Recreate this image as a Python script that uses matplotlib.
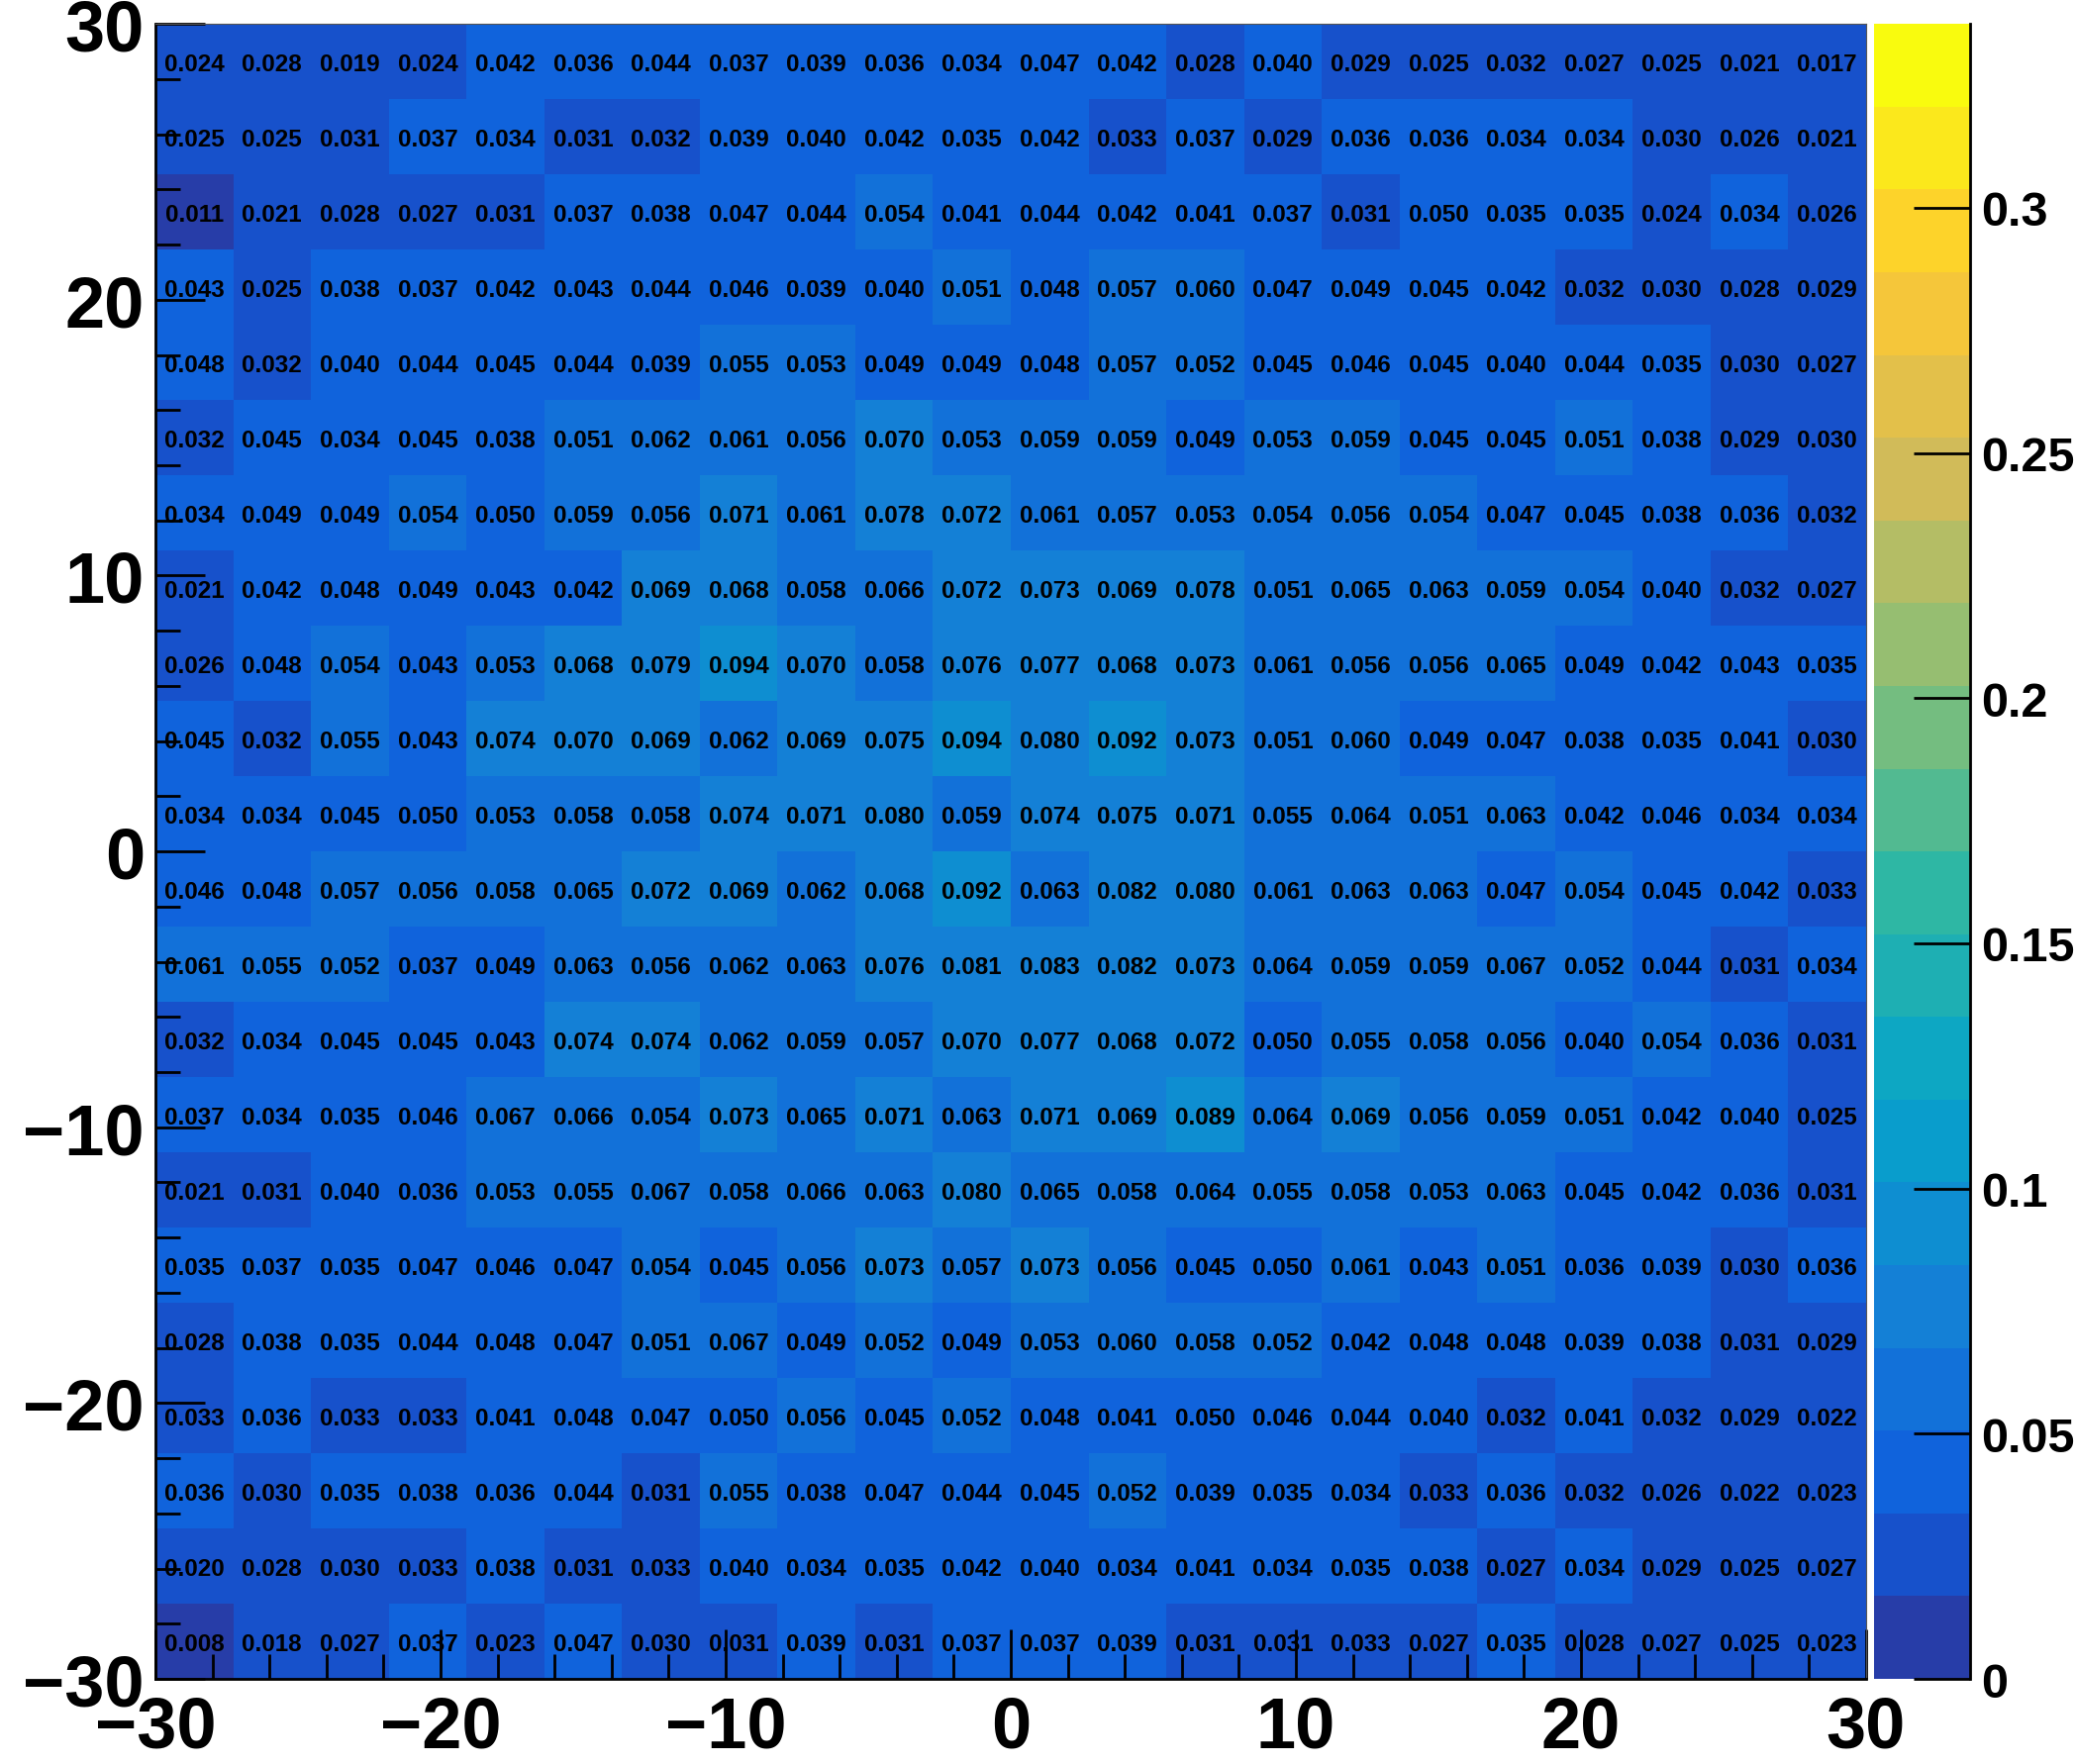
import numpy as np
import matplotlib
matplotlib.use("Agg")
import matplotlib.pyplot as plt
from matplotlib.colors import ListedColormap, BoundaryNorm
from matplotlib.ticker import MultipleLocator, FuncFormatter

plt.rcParams['font.family'] = ['Liberation Sans', 'DejaVu Sans']
plt.rcParams['font.weight'] = 'bold'

# bin contents, listed top row (y = +30) to bottom row (y = -30)
rows = [
    [0.024, 0.028, 0.019, 0.024, 0.042, 0.036, 0.044, 0.037, 0.039, 0.036, 0.034, 0.047, 0.042, 0.028, 0.040, 0.029, 0.025, 0.032, 0.027, 0.025, 0.021, 0.017],
    [0.025, 0.025, 0.031, 0.037, 0.034, 0.031, 0.032, 0.039, 0.040, 0.042, 0.035, 0.042, 0.033, 0.037, 0.029, 0.036, 0.036, 0.034, 0.034, 0.030, 0.026, 0.021],
    [0.011, 0.021, 0.028, 0.027, 0.031, 0.037, 0.038, 0.047, 0.044, 0.054, 0.041, 0.044, 0.042, 0.041, 0.037, 0.031, 0.050, 0.035, 0.035, 0.024, 0.034, 0.026],
    [0.043, 0.025, 0.038, 0.037, 0.042, 0.043, 0.044, 0.046, 0.039, 0.040, 0.051, 0.048, 0.057, 0.060, 0.047, 0.049, 0.045, 0.042, 0.032, 0.030, 0.028, 0.029],
    [0.048, 0.032, 0.040, 0.044, 0.045, 0.044, 0.039, 0.055, 0.053, 0.049, 0.049, 0.048, 0.057, 0.052, 0.045, 0.046, 0.045, 0.040, 0.044, 0.035, 0.030, 0.027],
    [0.032, 0.045, 0.034, 0.045, 0.038, 0.051, 0.062, 0.061, 0.056, 0.070, 0.053, 0.059, 0.059, 0.049, 0.053, 0.059, 0.045, 0.045, 0.051, 0.038, 0.029, 0.030],
    [0.034, 0.049, 0.049, 0.054, 0.050, 0.059, 0.056, 0.071, 0.061, 0.078, 0.072, 0.061, 0.057, 0.053, 0.054, 0.056, 0.054, 0.047, 0.045, 0.038, 0.036, 0.032],
    [0.021, 0.042, 0.048, 0.049, 0.043, 0.042, 0.069, 0.068, 0.058, 0.066, 0.072, 0.073, 0.069, 0.078, 0.051, 0.065, 0.063, 0.059, 0.054, 0.040, 0.032, 0.027],
    [0.026, 0.048, 0.054, 0.043, 0.053, 0.068, 0.079, 0.094, 0.070, 0.058, 0.076, 0.077, 0.068, 0.073, 0.061, 0.056, 0.056, 0.065, 0.049, 0.042, 0.043, 0.035],
    [0.045, 0.032, 0.055, 0.043, 0.074, 0.070, 0.069, 0.062, 0.069, 0.075, 0.094, 0.080, 0.092, 0.073, 0.051, 0.060, 0.049, 0.047, 0.038, 0.035, 0.041, 0.030],
    [0.034, 0.034, 0.045, 0.050, 0.053, 0.058, 0.058, 0.074, 0.071, 0.080, 0.059, 0.074, 0.075, 0.071, 0.055, 0.064, 0.051, 0.063, 0.042, 0.046, 0.034, 0.034],
    [0.046, 0.048, 0.057, 0.056, 0.058, 0.065, 0.072, 0.069, 0.062, 0.068, 0.092, 0.063, 0.082, 0.080, 0.061, 0.063, 0.063, 0.047, 0.054, 0.045, 0.042, 0.033],
    [0.061, 0.055, 0.052, 0.037, 0.049, 0.063, 0.056, 0.062, 0.063, 0.076, 0.081, 0.083, 0.082, 0.073, 0.064, 0.059, 0.059, 0.067, 0.052, 0.044, 0.031, 0.034],
    [0.032, 0.034, 0.045, 0.045, 0.043, 0.074, 0.074, 0.062, 0.059, 0.057, 0.070, 0.077, 0.068, 0.072, 0.050, 0.055, 0.058, 0.056, 0.040, 0.054, 0.036, 0.031],
    [0.037, 0.034, 0.035, 0.046, 0.067, 0.066, 0.054, 0.073, 0.065, 0.071, 0.063, 0.071, 0.069, 0.089, 0.064, 0.069, 0.056, 0.059, 0.051, 0.042, 0.040, 0.025],
    [0.021, 0.031, 0.040, 0.036, 0.053, 0.055, 0.067, 0.058, 0.066, 0.063, 0.080, 0.065, 0.058, 0.064, 0.055, 0.058, 0.053, 0.063, 0.045, 0.042, 0.036, 0.031],
    [0.035, 0.037, 0.035, 0.047, 0.046, 0.047, 0.054, 0.045, 0.056, 0.073, 0.057, 0.073, 0.056, 0.045, 0.050, 0.061, 0.043, 0.051, 0.036, 0.039, 0.030, 0.036],
    [0.028, 0.038, 0.035, 0.044, 0.048, 0.047, 0.051, 0.067, 0.049, 0.052, 0.049, 0.053, 0.060, 0.058, 0.052, 0.042, 0.048, 0.048, 0.039, 0.038, 0.031, 0.029],
    [0.033, 0.036, 0.033, 0.033, 0.041, 0.048, 0.047, 0.050, 0.056, 0.045, 0.052, 0.048, 0.041, 0.050, 0.046, 0.044, 0.040, 0.032, 0.041, 0.032, 0.029, 0.022],
    [0.036, 0.030, 0.035, 0.038, 0.036, 0.044, 0.031, 0.055, 0.038, 0.047, 0.044, 0.045, 0.052, 0.039, 0.035, 0.034, 0.033, 0.036, 0.032, 0.026, 0.022, 0.023],
    [0.020, 0.028, 0.030, 0.033, 0.038, 0.031, 0.033, 0.040, 0.034, 0.035, 0.042, 0.040, 0.034, 0.041, 0.034, 0.035, 0.038, 0.027, 0.034, 0.029, 0.025, 0.027],
    [0.008, 0.018, 0.027, 0.037, 0.023, 0.047, 0.030, 0.031, 0.039, 0.031, 0.037, 0.037, 0.039, 0.031, 0.031, 0.033, 0.027, 0.035, 0.028, 0.027, 0.025, 0.023],
]
values = np.array(rows)[::-1]  # row 0 = bottom

n_bins = 22
x_min, x_max = -30, 30
z_max = 0.3375
n_levels = 20
cbar_ticks = [0, 0.05, 0.1, 0.15, 0.2, 0.25, 0.3]

# ROOT kBird palette
stops = [0.0, 0.125, 0.25, 0.375, 0.5, 0.625, 0.75, 0.875, 1.0]
red = [0.2082, 0.0592, 0.0780, 0.0232, 0.1802, 0.5301, 0.8186, 0.9956, 0.9764]
green = [0.1664, 0.3599, 0.5041, 0.6419, 0.7178, 0.7492, 0.7328, 0.7862, 0.9832]
blue = [0.5293, 0.8684, 0.8385, 0.7914, 0.6425, 0.4662, 0.3499, 0.1968, 0.0539]
pos = np.arange(255) / 254
palette = np.column_stack([np.interp(pos, stops, red),
                           np.interp(pos, stops, green),
                           np.interp(pos, stops, blue)])
idx = [int((i + 0.99) * 255 / n_levels) for i in range(n_levels)]
cmap = ListedColormap(palette[idx])
levels = np.linspace(0, z_max, n_levels + 1)
norm = BoundaryNorm(levels, n_levels)

edges = np.linspace(x_min, x_max, n_bins + 1)
centers = 0.5 * (edges[:-1] + edges[1:])

fig = plt.figure(figsize=(20.96, 17.83), dpi=100)
ax = fig.add_axes([0.0749, 0.0482, 0.8244, 0.9377])
cax = fig.add_axes([0.9031, 0.0482, 0.0463, 0.9377])

mesh = ax.pcolormesh(edges, edges, values, cmap=cmap, norm=norm, zorder=1)

for j in range(n_bins):
    for i in range(n_bins):
        ax.text(centers[i], centers[j], f"{values[j, i]:.3f}", ha='center', va='center_baseline',
                fontsize=17.5, fontweight='bold', zorder=1.2)

ax.set_xlim(x_min, x_max)
ax.set_ylim(x_min, x_max)
for axis in (ax.xaxis, ax.yaxis):
    axis.set_major_locator(MultipleLocator(10))
    axis.set_minor_locator(MultipleLocator(2))
ax.tick_params(which='both', direction='in', top=False, right=False, width=2, color='black')
ax.tick_params(which='major', length=36, labelsize=52)
ax.tick_params(which='minor', length=18)
ax.tick_params(axis='x', which='major', pad=11)
ax.tick_params(axis='y', which='major', pad=8)
for s in ('left', 'bottom'):
    ax.spines[s].set_linewidth(2)
for s in ('top', 'right'):
    ax.spines[s].set_linewidth(0.8)
    ax.spines[s].set_color('#555555')

cbar = fig.colorbar(mesh, cax=cax, ticks=cbar_ticks)
cbar.outline.set_visible(False)
cax.plot([1, 1], [0, 1], transform=cax.transAxes, color='black', lw=2, clip_on=False)
cax.yaxis.set_major_formatter(FuncFormatter(lambda v, p: f"{v:g}"))
cax.tick_params(which='major', direction='in', right=True, left=False, length=41, width=2,
                labelsize=35, pad=8)
cax.minorticks_off()

fig.savefig("out.png", dpi=100)
